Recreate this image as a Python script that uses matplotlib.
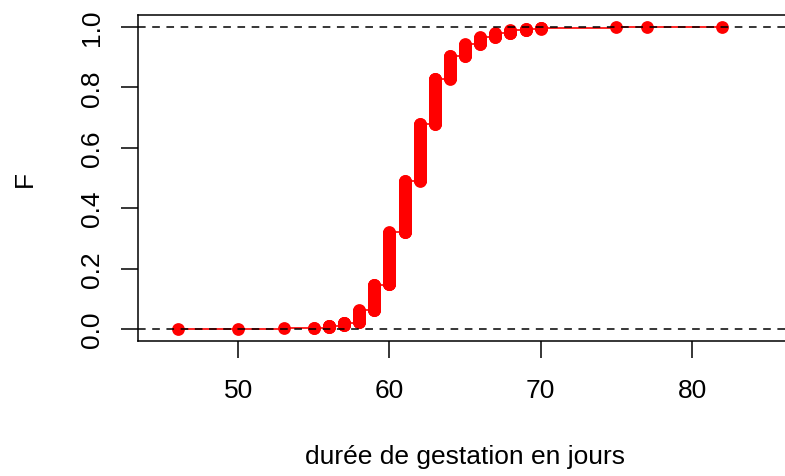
import numpy as np
import matplotlib
matplotlib.use("Agg")
import matplotlib.pyplot as plt

plt.rcParams['font.family'] = ['Liberation Sans', 'DejaVu Sans']

# gestation length (days) and number of observations at each value
durees = [46, 50, 53, 55, 56, 57, 58, 59, 60, 61, 62, 63, 64, 65, 66, 67, 68, 69, 70, 75, 77, 82]
effectifs = [1, 1, 1, 2, 7, 10, 40, 85, 173, 170, 188, 150, 75, 39, 23, 13, 10, 5, 4, 1, 1, 1]
x_ticks = [50, 60, 70, 80]
y_ticks = [0.0, 0.2, 0.4, 0.6, 0.8, 1.0]
y_ticklabels = ["0.0", "0.2", "0.4", "0.6", "0.8", "1.0"]

durees = np.array(durees)
effectifs = np.array(effectifs)
n = effectifs.sum()
obs = np.repeat(durees, effectifs)
F_obs = np.arange(1, n + 1) / n
F_knots = np.cumsum(effectifs) / n

W, H = 785, 477
fig = plt.figure(figsize=(W / 100, H / 100), dpi=100)
ax = fig.add_axes([138.3 / W, (H - 342.3) / H, 653.6 / W, 326.6 / H])
ax.set_xlim(43.4, 86.6)
ax.set_ylim(-0.04, 1.04)

# step function (thin red line)
ax.step(durees, F_knots, where='post', color='red', lw=1.2, zorder=2)
# every observation as a point -> vertical stacks
ax.plot(obs, F_obs, 'o', color='red', markersize=9.2, markeredgewidth=0, zorder=3)

# dashed reference lines
for yv in (0, 1):
    ax.axhline(yv, color='black', lw=1.1, dashes=(5, 4.3), zorder=4)

ax.spines['right'].set_visible(False)
for s in ('left', 'top', 'bottom'):
    ax.spines[s].set_linewidth(1.1)

ax.set_xticks(x_ticks)
ax.set_yticks(y_ticks)
ax.set_yticklabels(y_ticklabels, rotation=90, va='center')
ax.tick_params(axis='both', length=12, width=1.1, labelsize=19, direction='out')
ax.tick_params(axis='x', pad=14.2)
ax.tick_params(axis='y', pad=13)

ax.set_xlabel("durée de gestation en jours", fontsize=19)
ax.xaxis.set_label_coords(0.5, -0.3148)
ax.set_ylabel("F", fontsize=19)
ax.yaxis.set_label_coords(-0.1556, 0.5)

fig.savefig("out.png", dpi=100)
